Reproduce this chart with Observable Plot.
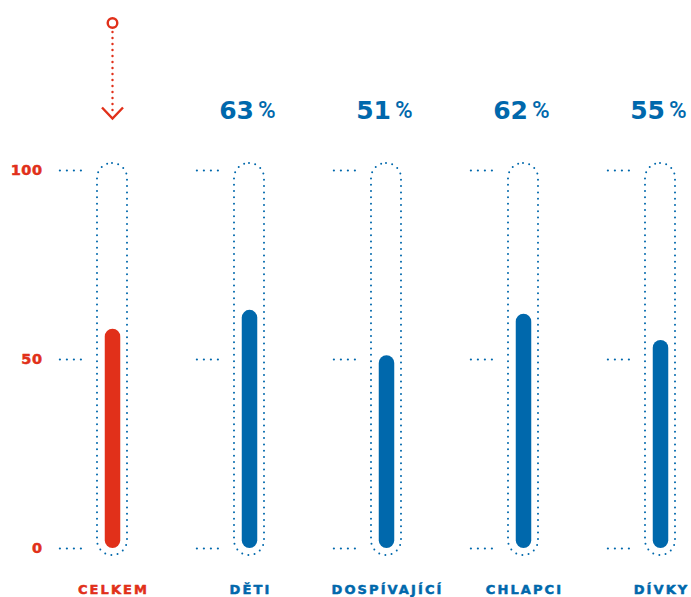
<!DOCTYPE html>
<html>
<head>
<meta charset="utf-8">
<script src="https://cdn.jsdelivr.net/npm/d3@7"></script>
<script src="https://cdn.jsdelivr.net/npm/@observablehq/plot@0.6"></script>
<style>
  html, body { margin: 0; padding: 0; background: #fff; }
</style>
</head>
<body>
<div id="chart"></div>
<script>
// ---- data ----
const categories = ["CELKEM", "DĚTI", "DOSPÍVAJÍCÍ", "CHLAPCI", "DÍVKY"];
const values = [58, 63, 51, 62, 55];
const yTicks = [0, 50, 100];
const highlight = "CELKEM";

const RED = "#E1301A";
const BLUE = "#0068AC";

const data = categories.map((c, i) => ({cat: c, value: values[i]}));
const tickData = categories.flatMap(c => yTicks.map(v => ({cat: c, v})));
const colorOf = d => (d.cat === highlight ? RED : BLUE);

const chevron = {
  draw(ctx) {
    ctx.moveTo(-10.5, -5.5);
    ctx.lineTo(0, 5.5);
    ctx.lineTo(10.5, -5.5);
  }
};

const H = 597;

const chart = Plot.plot({
  width: 691,
  height: H,
  margin: 0,
  style: {background: "white", overflow: "visible"},
  x: {type: "band", domain: categories, range: [96, 675], paddingInner: 0.7814, paddingOuter: 0, axis: null},
  y: {domain: [0, 100], range: [548, 170], axis: null},
  marks: [
    // dotted capsule "tubes"
    Plot.barY(data, {
      x: "cat", y1: () => 0, y2: () => 100,
      fill: "none", stroke: BLUE, strokeWidth: 2, strokeDasharray: "0 6.3",
      strokeLinecap: "round", rx: 15, insetTop: -7, insetBottom: -7
    }),
    // dotted tick markers left of every tube
    Plot.tickY(tickData, {
      x: "cat", y: "v", dx: -41.5, insetLeft: 4.4, insetRight: 4.4,
      stroke: BLUE, strokeWidth: 2.2, strokeDasharray: "0 7", strokeLinecap: "round"
    }),
    // value bars (y1 = top so that insetTop pulls it down, insetBottom lifts the base)
    Plot.ruleX(data, {
      x: "cat", y1: "value", y2: () => 0,
      stroke: colorOf, strokeWidth: 15.5, strokeLinecap: "round",
      insetTop: 7.75, insetBottom: 7.75
    }),
    // y labels
    Plot.text(yTicks, {
      y: d => d, text: d => String(d), frameAnchor: "left", dx: 42,
      textAnchor: "end", fill: RED, stroke: RED, strokeWidth: 0.5,
      fontFamily: "DejaVu Sans", fontWeight: "bold", fontSize: 14.5
    }),
    // category labels
    Plot.text(data, {
      x: "cat", y: () => 0, dy: 41, dx: 1, text: "cat", fill: colorOf, stroke: colorOf, strokeWidth: 0.5,
      fontFamily: "DejaVu Sans", fontWeight: "bold", fontSize: 13
    }),
    // percentage labels (number + %)
    Plot.text(data.filter(d => d.cat !== highlight), {
      x: "cat", y: () => 100, dy: -60, dx: 4.5, text: d => String(d.value), textAnchor: "end",
      fill: BLUE, fontFamily: "DejaVu Sans", fontWeight: "bold", fontSize: 25
    }),
    Plot.text(data.filter(d => d.cat !== highlight), {
      x: "cat", y: () => 100, dy: -60, dx: 8.5, text: () => "%", textAnchor: "start",
      fill: BLUE, fontFamily: "Roboto", fontWeight: 500, fontSize: 24
    }),
    // highlight arrow
    Plot.ruleX([highlight], {
      x: d => d, insetTop: 32, insetBottom: H - 112,
      stroke: RED, strokeWidth: 2.4, strokeDasharray: "0 6", strokeLinecap: "round"
    }),
    Plot.dot([highlight], {
      x: d => d, frameAnchor: "top", dy: 22.5, r: 4.8,
      fill: "none", stroke: RED, strokeWidth: 2.4
    }),
    Plot.dot([highlight], {
      x: d => d, frameAnchor: "top", dy: 112.5, symbol: chevron,
      fill: "none", stroke: RED, strokeWidth: 2.4, strokeLinejoin: "miter"
    })
  ]
});
// letter spacing for the spaced-out labels
d3.select(chart).selectAll("text")
  .filter(function () { return categories.includes(this.textContent); })
  .style("letter-spacing", "2.1px");
d3.select(chart).selectAll("text")
  .filter(function () { return yTicks.map(String).includes(this.textContent); })
  .style("letter-spacing", "0.5px");
document.getElementById("chart").append(chart);
</script>
</body>
</html>
